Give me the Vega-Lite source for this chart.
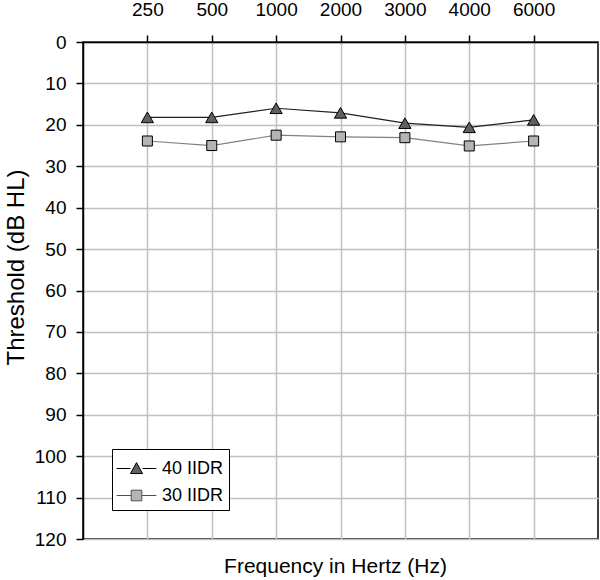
{
  "$schema": "https://vega.github.io/schema/vega-lite/v6.json",
  "autosize": "none",
  "width": 515,
  "height": 497,
  "padding": {"left": 83, "top": 42, "right": 2, "bottom": 41},
  "background": "white",
  "config": {
    "font": "Liberation Sans",
    "view": {"stroke": "#000", "strokeWidth": 1.5},
    "axis": {
      "domainColor": "#000", "domainWidth": 1.5,
      "tickColor": "#000", "tickWidth": 1.5, "tickSize": 7,
      "gridColor": "#c0c0c0", "gridWidth": 1.5,
      "labelFont": "Liberation Sans", "labelColor": "#000", "labelFontSize": 19,
      "titleFont": "Liberation Sans", "titleColor": "#000", "titleFontWeight": "normal"
    }
  },
  "data": {
    "values": [
      {"freq": "250", "series": "40 IIDR", "value": 18.2},
      {"freq": "500", "series": "40 IIDR", "value": 18.2},
      {"freq": "1000", "series": "40 IIDR", "value": 16.0},
      {"freq": "2000", "series": "40 IIDR", "value": 17.1},
      {"freq": "3000", "series": "40 IIDR", "value": 19.6},
      {"freq": "4000", "series": "40 IIDR", "value": 20.6},
      {"freq": "6000", "series": "40 IIDR", "value": 18.8},
      {"freq": "250", "series": "30 IIDR", "value": 23.9},
      {"freq": "500", "series": "30 IIDR", "value": 25.0},
      {"freq": "1000", "series": "30 IIDR", "value": 22.5},
      {"freq": "2000", "series": "30 IIDR", "value": 22.9},
      {"freq": "3000", "series": "30 IIDR", "value": 23.1},
      {"freq": "4000", "series": "30 IIDR", "value": 25.1},
      {"freq": "6000", "series": "30 IIDR", "value": 23.9}
    ]
  },
  "encoding": {
    "x": {
      "field": "freq", "type": "ordinal",
      "sort": ["250", "500", "1000", "2000", "3000", "4000", "6000"],
      "scale": {"type": "point", "padding": 1},
      "axis": {
        "orient": "top", "title": "Frequency in Hertz (Hz)", "labelAngle": 0, "grid": true,
        "labelPadding": 16, "titleFontSize": 21, "titleY": 524, "titleX": 252,
        "titleBaseline": "middle", "titleAnchor": "middle"
      }
    },
    "y": {
      "field": "value", "type": "quantitative",
      "scale": {"domain": [0, 120], "reverse": true, "nice": false},
      "axis": {
        "title": "Threshold (dB HL)", "values": [0, 10, 20, 30, 40, 50, 60, 70, 80, 90, 100, 110, 120],
        "labelPadding": 10, "titleFontSize": 24, "titleAngle": -90,
        "titleX": -67, "titleY": 225, "titleBaseline": "middle", "titleAnchor": "middle"
      }
    }
  },
  "layer": [
    {
      "transform": [{"filter": "datum.series === '40 IIDR'"}],
      "mark": {"type": "line", "strokeWidth": 1.2, "stroke": "#202020"},
      "encoding": {}
    },
    {
      "transform": [{"filter": "datum.series === '30 IIDR'"}],
      "mark": {"type": "line", "strokeWidth": 1.2, "stroke": "#808080"},
      "encoding": {}
    },
    {
      "transform": [{"filter": "datum.series === '40 IIDR'"}],
      "mark": {"type": "point", "shape": "triangle-up", "size": 150, "filled": true, "fill": "#606060", "stroke": "#000", "strokeWidth": 1, "opacity": 1}
    },
    {
      "transform": [{"filter": "datum.series === '30 IIDR'"}],
      "mark": {"type": "point", "shape": "square", "size": 100, "filled": true, "fill": "#b4b4b4", "stroke": "#000", "strokeWidth": 1, "opacity": 1}
    },
    {
      "mark": {"type": "point", "filled": true, "opacity": 0, "size": 784, "strokeWidth": 1},
      "encoding": {
        "shape": {
          "field": "series", "type": "nominal",
          "scale": {
            "domain": ["40 IIDR", "30 IIDR"],
            "range": [
              "M-1.42,0H-0.43M0.43,0H1.42M-0.43,0.36L0,-0.42L0.43,0.36Z",
              "M-1.42,0H-0.38M0.38,0H1.42M-0.38,-0.38H0.38V0.38H-0.38Z"
            ]
          },
          "legend": {
            "title": null, "orient": "none", "legendX": 29, "legendY": 407,
            "symbolSize": 784, "symbolOpacity": 1, "symbolStrokeWidth": 1, "symbolOffset": 5,
            "labelFontSize": 18, "labelColor": "#000", "labelOffset": 11,
            "strokeColor": "#000", "fillColor": "#fff", "padding": 5, "rowPadding": 3
          }
        },
        "fill": {
          "field": "series", "type": "nominal",
          "scale": {"domain": ["40 IIDR", "30 IIDR"], "range": ["#606060", "#b4b4b4"]}
        },
        "stroke": {
          "field": "series", "type": "nominal",
          "scale": {"domain": ["40 IIDR", "30 IIDR"], "range": ["#000000", "#505050"]}
        }
      }
    }
  ]
}
